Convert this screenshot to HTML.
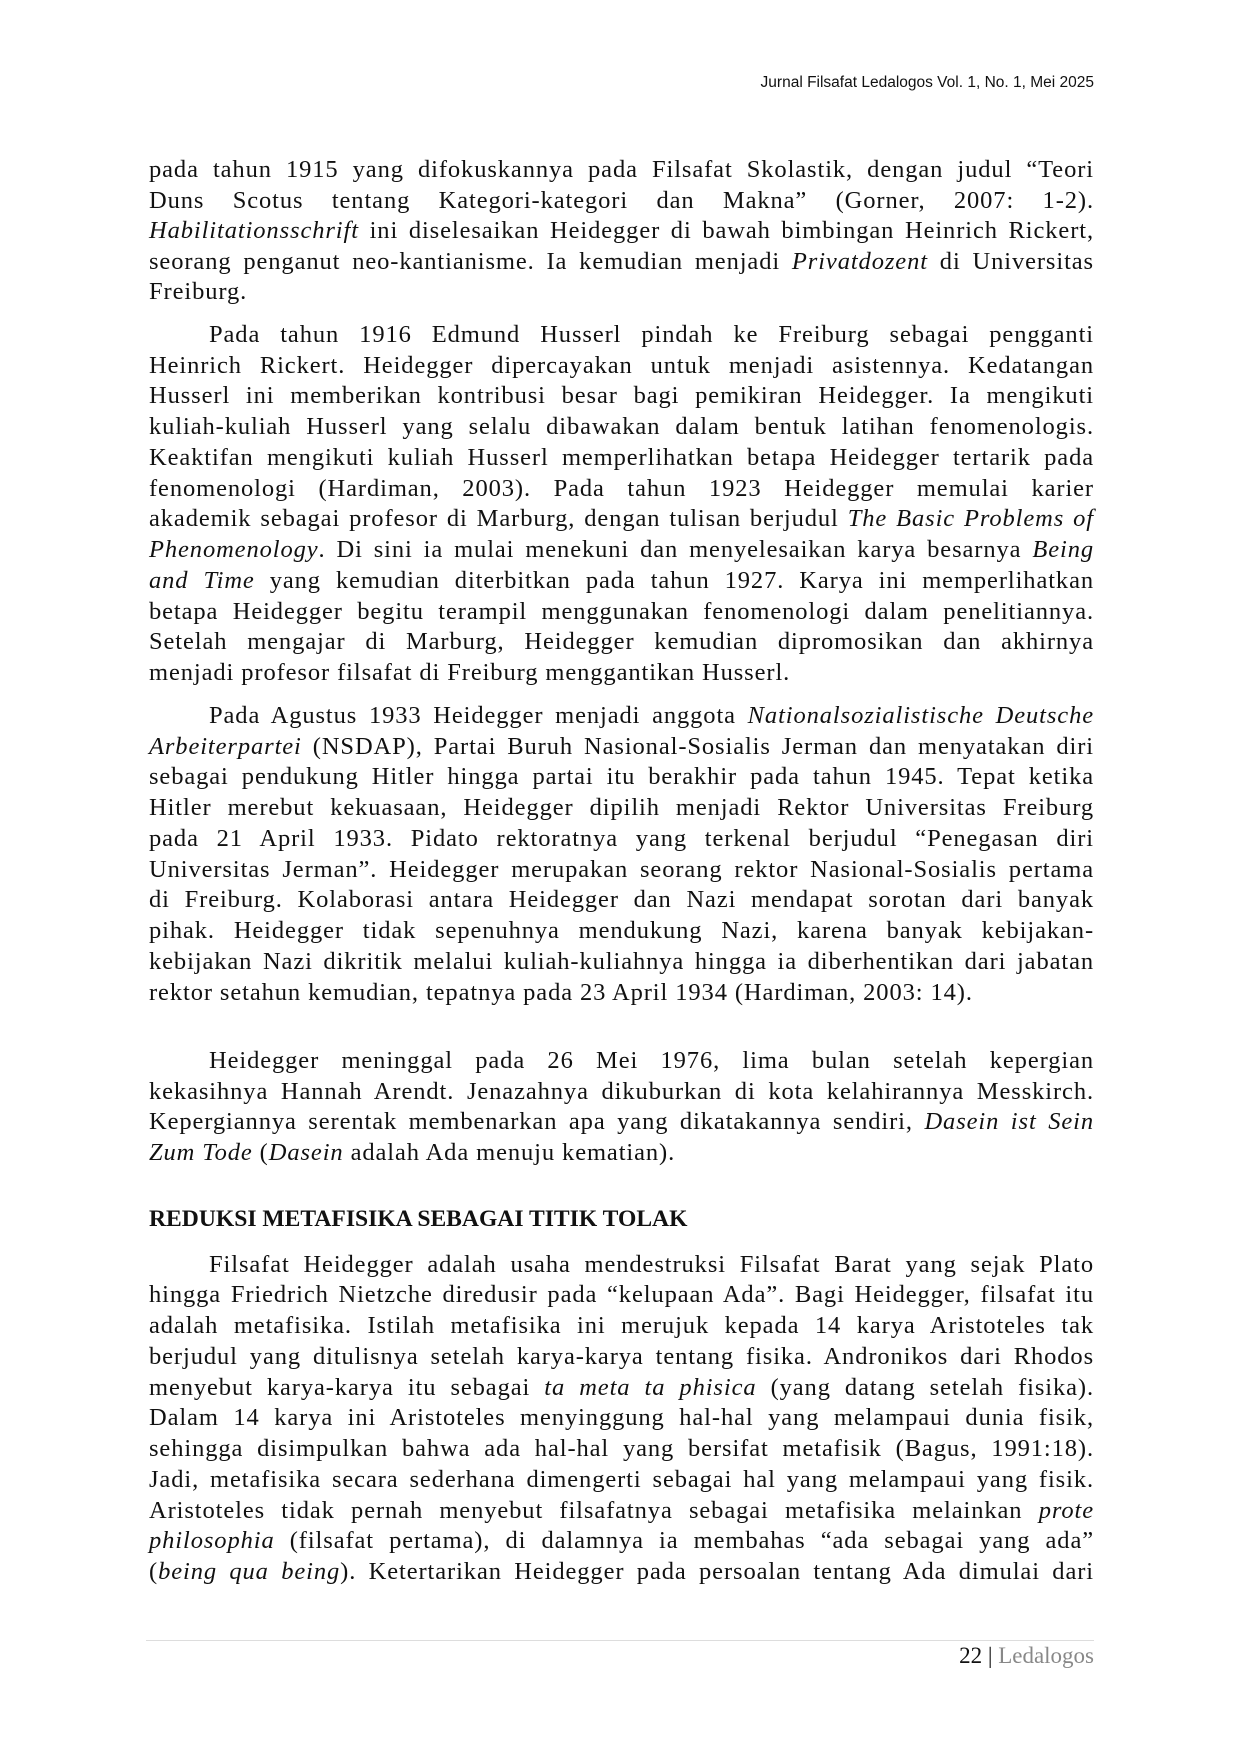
<!DOCTYPE html>
<html><head><meta charset="utf-8">
<style>
html,body{margin:0;padding:0;background:#fff;}
body{width:1240px;height:1754px;position:relative;overflow:hidden;font-family:"Liberation Serif",serif;color:#111;}
.l{position:absolute;left:149px;width:945px;height:31px;line-height:31px;font-size:24.5px;letter-spacing:0.9px;white-space:nowrap;text-align:justify;text-align-last:justify;}
.l.i{left:209px;width:885px;}
.l.e{text-align-last:left;}
.h{position:absolute;right:146px;top:74px;font-size:15.5px;font-family:"Liberation Sans",sans-serif;}
.hd{position:absolute;left:149px;top:1204px;font-size:23.6px;font-weight:bold;line-height:31px;}
.rule{position:absolute;left:146px;width:948px;top:1640px;border-top:1.5px solid #ddd;}
.ft{position:absolute;right:146px;top:1643px;font-size:23px;line-height:26px;}
</style></head><body>
<div class="h">Jurnal Filsafat Ledalogos Vol. 1, No. 1, Mei 2025</div>

<div class="l" style="top:154px">pada tahun 1915 yang difokuskannya pada Filsafat Skolastik, dengan judul “Teori</div>
<div class="l" style="top:185px">Duns Scotus tentang Kategori-kategori dan Makna” (Gorner, 2007: 1-2).</div>
<div class="l" style="top:215px"><i>Habilitationsschrift</i> ini diselesaikan Heidegger di bawah bimbingan Heinrich Rickert,</div>
<div class="l" style="top:246px">seorang penganut neo-kantianisme. Ia kemudian menjadi <i>Privatdozent</i> di Universitas</div>
<div class="l e" style="top:276px">Freiburg.</div>

<div class="l i" style="top:319px">Pada tahun 1916 Edmund Husserl pindah ke Freiburg sebagai pengganti</div>
<div class="l" style="top:350px">Heinrich Rickert. Heidegger dipercayakan untuk menjadi asistennya. Kedatangan</div>
<div class="l" style="top:380px">Husserl ini memberikan kontribusi besar bagi pemikiran Heidegger. Ia mengikuti</div>
<div class="l" style="top:411px">kuliah-kuliah Husserl yang selalu dibawakan dalam bentuk latihan fenomenologis.</div>
<div class="l" style="top:442px">Keaktifan mengikuti kuliah Husserl memperlihatkan betapa Heidegger tertarik pada</div>
<div class="l" style="top:473px">fenomenologi (Hardiman, 2003). Pada tahun 1923 Heidegger memulai karier</div>
<div class="l" style="top:503px">akademik sebagai profesor di Marburg, dengan tulisan berjudul <i>The Basic Problems of</i></div>
<div class="l" style="top:534px"><i>Phenomenology</i>. Di sini ia mulai menekuni dan menyelesaikan karya besarnya <i>Being</i></div>
<div class="l" style="top:565px"><i>and Time</i> yang kemudian diterbitkan pada tahun 1927. Karya ini memperlihatkan</div>
<div class="l" style="top:596px">betapa Heidegger begitu terampil menggunakan fenomenologi dalam penelitiannya.</div>
<div class="l" style="top:626px">Setelah mengajar di Marburg, Heidegger kemudian dipromosikan dan akhirnya</div>
<div class="l e" style="top:657px">menjadi profesor filsafat di Freiburg menggantikan Husserl.</div>

<div class="l i" style="top:700px">Pada Agustus 1933 Heidegger menjadi anggota <i>Nationalsozialistische Deutsche</i></div>
<div class="l" style="top:731px"><i>Arbeiterpartei</i> (NSDAP), Partai Buruh Nasional-Sosialis Jerman dan menyatakan diri</div>
<div class="l" style="top:761px">sebagai pendukung Hitler hingga partai itu berakhir pada tahun 1945. Tepat ketika</div>
<div class="l" style="top:792px">Hitler merebut kekuasaan, Heidegger dipilih menjadi Rektor Universitas Freiburg</div>
<div class="l" style="top:823px">pada 21 April 1933. Pidato rektoratnya yang terkenal berjudul “Penegasan diri</div>
<div class="l" style="top:854px">Universitas Jerman”. Heidegger merupakan seorang rektor Nasional-Sosialis pertama</div>
<div class="l" style="top:884px">di Freiburg. Kolaborasi antara Heidegger dan Nazi mendapat sorotan dari banyak</div>
<div class="l" style="top:915px">pihak. Heidegger tidak sepenuhnya mendukung Nazi, karena banyak kebijakan-</div>
<div class="l" style="top:946px">kebijakan Nazi dikritik melalui kuliah-kuliahnya hingga ia diberhentikan dari jabatan</div>
<div class="l e" style="top:977px">rektor setahun kemudian, tepatnya pada 23 April 1934 (Hardiman, 2003: 14).</div>

<div class="l i" style="top:1045px">Heidegger meninggal pada 26 Mei 1976, lima bulan setelah kepergian</div>
<div class="l" style="top:1076px">kekasihnya Hannah Arendt. Jenazahnya dikuburkan di kota kelahirannya Messkirch.</div>
<div class="l" style="top:1106px">Kepergiannya serentak membenarkan apa yang dikatakannya sendiri, <i>Dasein ist Sein</i></div>
<div class="l e" style="top:1137px"><i>Zum Tode</i> (<i>Dasein</i> adalah Ada menuju kematian).</div>

<div class="hd">REDUKSI METAFISIKA SEBAGAI TITIK TOLAK</div>

<div class="l i" style="top:1249px">Filsafat Heidegger adalah usaha mendestruksi Filsafat Barat yang sejak Plato</div>
<div class="l" style="top:1279px">hingga Friedrich Nietzche diredusir pada “kelupaan Ada”. Bagi Heidegger, filsafat itu</div>
<div class="l" style="top:1310px">adalah metafisika. Istilah metafisika ini merujuk kepada 14 karya Aristoteles tak</div>
<div class="l" style="top:1341px">berjudul yang ditulisnya setelah karya-karya tentang fisika. Andronikos dari Rhodos</div>
<div class="l" style="top:1372px">menyebut karya-karya itu sebagai <i>ta meta ta phisica</i> (yang datang setelah fisika).</div>
<div class="l" style="top:1402px">Dalam 14 karya ini Aristoteles menyinggung hal-hal yang melampaui dunia fisik,</div>
<div class="l" style="top:1433px">sehingga disimpulkan bahwa ada hal-hal yang bersifat metafisik (Bagus, 1991:18).</div>
<div class="l" style="top:1464px">Jadi, metafisika secara sederhana dimengerti sebagai hal yang melampaui yang fisik.</div>
<div class="l" style="top:1495px">Aristoteles tidak pernah menyebut filsafatnya sebagai metafisika melainkan <i>prote</i></div>
<div class="l" style="top:1525px"><i>philosophia</i> (filsafat pertama), di dalamnya ia membahas “ada sebagai yang ada”</div>
<div class="l" style="top:1556px">(<i>being qua being</i>). Ketertarikan Heidegger pada persoalan tentang Ada dimulai dari</div>

<div class="rule"></div>
<div class="ft">22 | <span style="color:#888">Ledalogos</span></div>
</body></html>
